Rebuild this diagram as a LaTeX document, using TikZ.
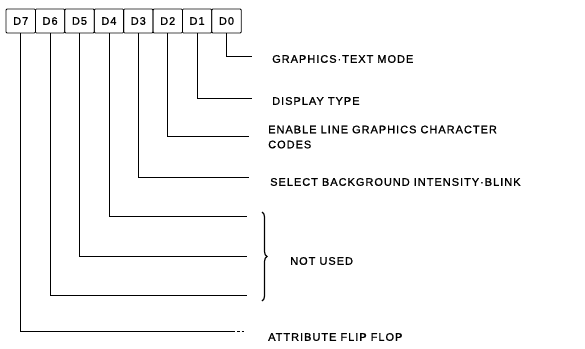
\documentclass[tikz,border=0pt]{standalone}
\usepackage{fontspec}
\newfontfamily\labfont{Liberation Sans}[LetterSpace=9,FakeBold=1.2]
\usetikzlibrary{decorations.pathreplacing}
\begin{document}
\begin{tikzpicture}[x=1pt,y=-1pt,
  bitbox/.style={draw,line width=0.8pt,minimum width=29.4pt,minimum height=24pt,inner sep=0pt,rounded corners=1pt,
    font=\labfont\fontsize{11}{13}\selectfont},
  lab/.style={anchor=west,inner sep=0pt,align=left,font=\labfont\fontsize{11}{15}\selectfont},
  wire/.style={line width=0.8pt}]
\useasboundingbox (0,0) rectangle (585,348);
% register boxes
\foreach \i in {0,...,7}{
  \node[bitbox] (b\i) at ({6+29.4*(7-\i)+14.7},21) {D\i};
}
% end points of the connectors
\coordinate (e0) at (252,56);
\coordinate (e1) at (252,98);
\coordinate (e2) at (249,136);
\coordinate (e3) at (249,177);
\coordinate (e4) at (247,216);
\coordinate (e5) at (247,256);
\coordinate (e6) at (247,295);
\coordinate (e7) at (235,331);
\coordinate (d7a) at (237,331);
\coordinate (d7b) at (245,331);
% connectors
\foreach \i in {0,...,7}{
  \draw[wire] (b\i.south) |- (e\i);
}
\draw[wire,dash pattern=on 2.5pt off 2pt] (d7a) -- (d7b);
% brace
\coordinate (bt) at (262,212);
\coordinate (bb) at (262,301);
\draw[line width=1.2pt,decorate,decoration={brace,amplitude=5pt}] (bt) -- (bb);
% labels
\node[lab] (t0) at (272,59) {GRAPHICS·TEXT MODE};
\node[lab] (t1) at (272,101) {DISPLAY TYPE};
\node[lab] (t2) at (268,137) {ENABLE LINE GRAPHICS CHARACTER\\CODES};
\node[lab] (t3) at (270,182) {SELECT BACKGROUND INTENSITY·BLINK};
\node[lab] (t4) at (290,261) {NOT USED};
\node[lab] (t7) at (268,337) {ATTRIBUTE FLIP FLOP};
\end{tikzpicture}
\end{document}
